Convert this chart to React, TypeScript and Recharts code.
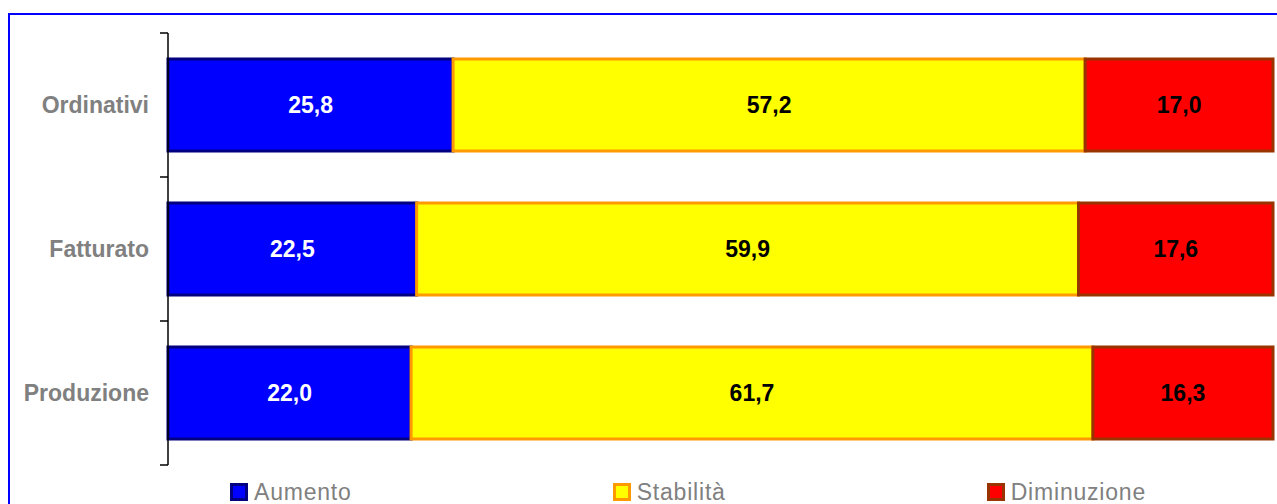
import React from 'react';
import { BarChart, Bar, XAxis, YAxis, LabelList } from 'recharts';

const categories = ['Ordinativi', 'Fatturato', 'Produzione'];
const aumento = [25.8, 22.5, 22.0];
const stabilita = [57.2, 59.9, 61.7];
const diminuzione = [17.0, 17.6, 16.3];

const series = [
  { key: 'aumento', name: 'Aumento', fill: '#0000FF', stroke: '#000080', text: '#FFFFFF' },
  { key: 'stabilita', name: 'Stabilità', fill: '#FFFF00', stroke: '#FF9900', text: '#000000' },
  { key: 'diminuzione', name: 'Diminuzione', fill: '#FF0000', stroke: '#993300', text: '#000000' },
];

const data = categories.map((c, i) => ({
  name: c,
  aumento: aumento[i],
  stabilita: stabilita[i],
  diminuzione: diminuzione[i],
}));

const font = '"Liberation Sans", Arial, sans-serif';

const CHART_W = 1269;
const CHART_H = 460;
const MARGIN = { top: 25, right: 4, bottom: 3, left: 0 };
const BAND = (CHART_H - MARGIN.top - MARGIN.bottom) / categories.length;

function fmt(v: any) {
  return Number(v).toFixed(1).replace('.', ',');
}

// category label plus a tick mark at each band boundary (Excel-style)
function CategoryTick(props: any) {
  const { x, y, payload, index } = props;
  const half = BAND / 2;
  return (
    <g>
      <line x1={x - 8} x2={x} y1={y - half} y2={y - half} stroke="#000000" strokeWidth={1.5} />
      {index === categories.length - 1 && (
        <line x1={x - 8} x2={x} y1={y + half} y2={y + half} stroke="#000000" strokeWidth={1.5} />
      )}
      <text
        x={x - 19}
        y={y}
        dy="0.355em"
        textAnchor="end"
        fill="#808080"
        fontSize={23}
        fontWeight="bold"
        fontFamily={font}
      >
        {payload.value}
      </text>
    </g>
  );
}

const legendGaps = [230, 261, 261];

export default function App() {
  return (
    <div style={{ width: 1261, height: 488 }}>
      <div
        style={{
          position: 'fixed',
          left: 0,
          top: 0,
          width: 1277,
          height: 504,
          overflow: 'hidden',
          background: '#FFFFFF',
          fontFamily: font,
        }}
      >
        <div
          style={{
            position: 'absolute',
            left: 8,
            top: 13,
            width: 1400,
            height: 600,
            border: '2px solid #0000FF',
            boxSizing: 'border-box',
          }}
        />
        <div style={{ position: 'absolute', left: 8, top: 8 }}>
          <BarChart
            width={CHART_W}
            height={CHART_H}
            data={data}
            layout="vertical"
            barCategoryGap="18%"
            margin={MARGIN}
          >
            <XAxis type="number" domain={[0, 100]} hide />
            <YAxis
              type="category"
              dataKey="name"
              width={160}
              axisLine={{ stroke: '#000000', strokeWidth: 1.5 }}
              tickLine={false}
              tickSize={0}
              tickMargin={0}
              tick={<CategoryTick />}
            />
            {series.map((s) => (
              <Bar
                key={s.key}
                dataKey={s.key}
                name={s.name}
                stackId="a"
                fill={s.fill}
                stroke={s.stroke}
                strokeWidth={3}
                isAnimationActive={false}
              >
                <LabelList
                  dataKey={s.key}
                  position="center"
                  formatter={fmt}
                  fill={s.text}
                  style={{ fontSize: 23, fontWeight: 'bold', fontFamily: font }}
                />
              </Bar>
            ))}
          </BarChart>
        </div>
        <div
          style={{
            position: 'absolute',
            left: 0,
            top: 480,
            display: 'flex',
            alignItems: 'center',
            fontSize: 23,
            lineHeight: '24px',
            letterSpacing: 0.8,
            color: '#808080',
          }}
        >
          {series.map((s, i) => (
            <div key={s.key} style={{ display: 'flex', alignItems: 'center', marginLeft: legendGaps[i] }}>
              <span
                style={{
                  display: 'inline-block',
                  width: 12,
                  height: 12,
                  background: s.fill,
                  border: `3px solid ${s.stroke}`,
                  marginRight: 6,
                }}
              />
              <span>{s.name}</span>
            </div>
          ))}
        </div>
      </div>
    </div>
  );
}
